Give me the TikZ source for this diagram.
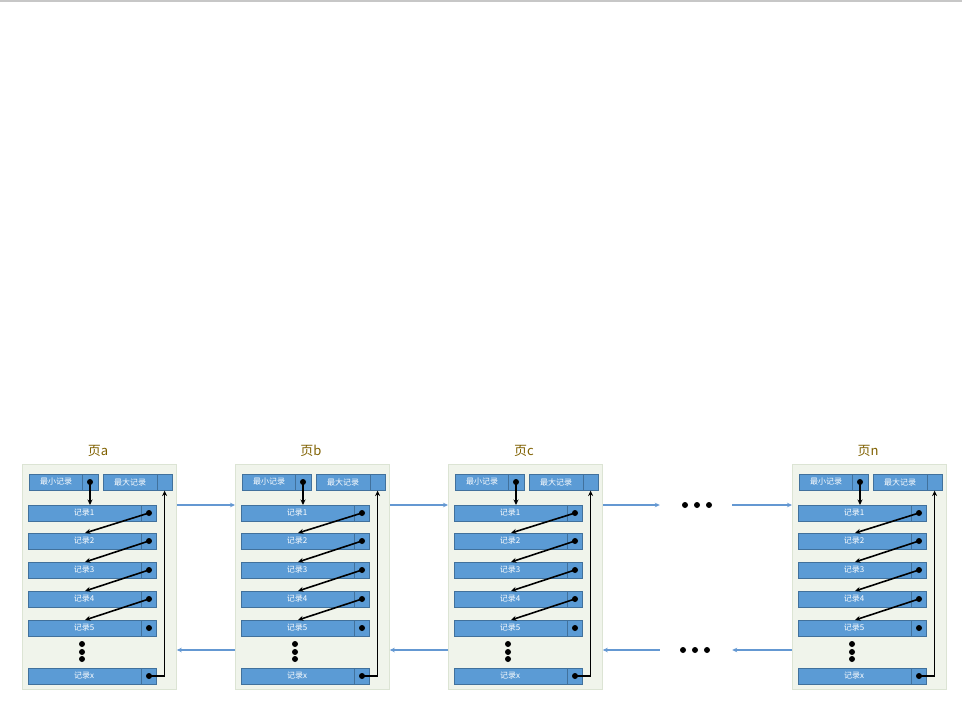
\documentclass[tikz,border=0pt]{standalone}
\usepackage{fontspec}
\newfontfamily\cjk{Noto Sans CJK SC}
\usetikzlibrary{arrows.meta,calc}
\definecolor{recblue}{RGB}{91,155,213}
\definecolor{recedge}{RGB}{65,113,156}
\definecolor{pagebg}{RGB}{240,244,235}
\definecolor{pageedge}{RGB}{220,228,212}
\definecolor{titlec}{RGB}{127,96,0}
\definecolor{linkblue}{RGB}{100,152,210}
\begin{document}
\begin{tikzpicture}[x=1pt,y=-1pt,
  pagebox/.style={draw=pageedge,fill=pagebg,line width=0.8pt,inner sep=0,minimum width=154pt,minimum height=225pt,anchor=north west},
  recbox/.style={draw=recedge,fill=recblue,line width=0.6pt,inner sep=0,minimum height=16pt,anchor=north west},
  rectext/.style={text=white,inner sep=0,font=\cjk\fontsize{8}{9}\selectfont},
  ptitle/.style={text=titlec,inner sep=0,font=\cjk\fontsize{13}{15}\selectfont},
  ptr/.style={black,line width=1.6pt,-{Stealth[length=5.5pt,width=5pt]}},
  link/.style={linkblue,line width=1.4pt,-{Stealth[length=5pt,width=4.5pt]}},
  gap/.style={inner sep=0,minimum width=72pt,minimum height=8pt}]
\useasboundingbox (0,0) rectangle (962,720);
\fill[black!22] (0,0) rectangle (962,2);

\foreach \L/\n in {23/a,236/b,449/c,793/n}{
  \node[ptitle] (\n-title) at (\L+75,451) {页\n};
  \node[pagebox] (\n-bg) at (\L-1,464) {};
  % min / max record
  \node[recbox,minimum width=69pt] (\n-min) at (\L+6,474) {};
  \draw[recedge,line width=0.6pt] (\L+59,474) -- (\L+59,490);
  \node[rectext] at (\L+33,482) {最小记录};
  \node[recbox,minimum width=69pt] (\n-max) at (\L+80,474) {};
  \draw[recedge,line width=0.6pt] (\L+134,474) -- (\L+134,490);
  \node[rectext] at (\L+107,482) {最大记录};
  % records
  \foreach \y/\k/\t in {505/1/记录1,533/2/记录2,562/3/记录3,591/4/记录4,620/5/记录5,668/x/记录x}{
    \node[recbox,minimum width=128pt] (\n-r\k) at (\L+5,\y) {};
    \draw[recedge,line width=0.6pt] (\L+118,\y) -- (\L+118,\y+16);
    \node[rectext] at (\L+61,\y+8) {\t};
    \coordinate (\n-d\k) at (\L+126,\y+8);
    \fill (\n-d\k) circle (3pt);
  }
  \coordinate (\n-mind) at (\L+67,482);
  \fill (\n-mind) circle (3pt);
  \foreach \yy in {644,652,659} \fill (\L+59,\yy) circle (3pt);
  % pointers
  \draw[ptr] (\n-mind) -- (\n-mind |- \n-r1.north);
  \foreach \a/\b in {1/2,2/3,3/4,4/5}
    \draw[ptr] (\n-d\a) -- ($(\n-r\b.north west)+(57,0)$);
  \draw[ptr] (\n-dx) -| ($(\n-max.south east)+(-8,0)$);
  \coordinate (\n-hi) at (\L,505);
  \coordinate (\n-lo) at (\L,650);
}

% links between pages
\draw[link] (a-bg.east |- a-hi) -- (b-bg.west |- a-hi);
\draw[link] (b-bg.east |- a-hi) -- (c-bg.west |- a-hi);
\draw[link] (b-bg.west |- a-lo) -- (a-bg.east |- a-lo);
\draw[link] (c-bg.west |- a-lo) -- (b-bg.east |- a-lo);

\node[gap] (dt) at (696,505) {};
\node[gap] (db) at (696,650) {};
\foreach \xx in {685,697,709} \fill (\xx,505) circle (3pt);
\foreach \xx in {683,695,707} \fill (\xx,650) circle (3pt);
\draw[link] (c-bg.east |- dt) -- (dt.west);
\draw[link] (dt.east) -- (n-bg.west |- dt);
\draw[link] (n-bg.west |- db) -- (db.east);
\draw[link] (db.west) -- (c-bg.east |- db);
\end{tikzpicture}
\end{document}
